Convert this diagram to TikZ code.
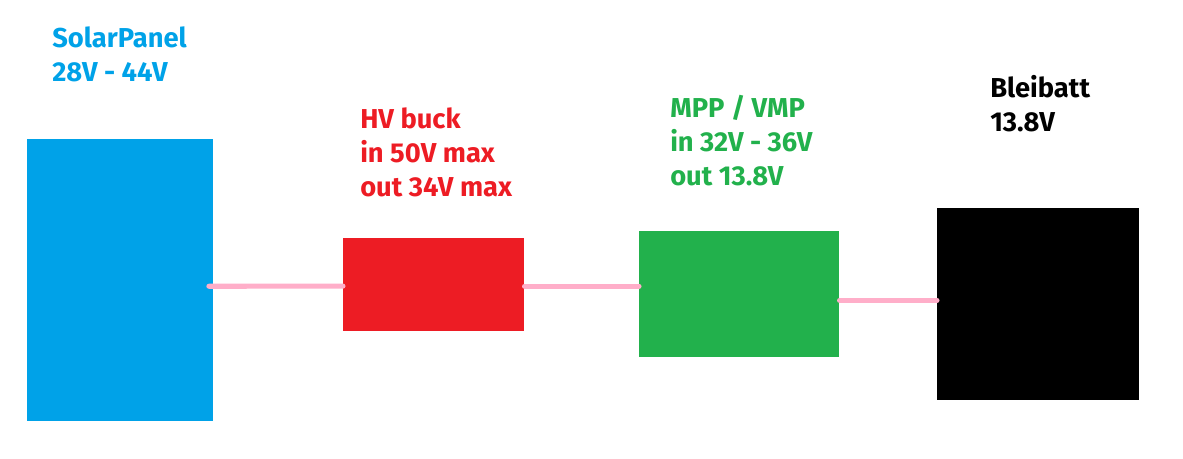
\documentclass[tikz,border=0pt]{standalone}
\usepackage{fontspec}
\setmainfont{Fira Sans}
\usepackage{tikz}
\usetikzlibrary{arrows}

\definecolor{paintblue}{HTML}{00A2E8}
\definecolor{paintred}{HTML}{ED1C24}
\definecolor{paintgreen}{HTML}{22B14C}
\definecolor{paintpink}{HTML}{FFAEC9}

\tikzset{
  block/.style={draw=none, inner sep=0pt, anchor=north west},
  label/.style={anchor=base west, inner sep=0pt, align=left,
    font=\fontsize{20.5}{25.5}\selectfont\bfseries},
  wire/.style={draw=paintpink, line width=3.8pt, line cap=round}
}

\begin{document}
\begin{tikzpicture}[x=0.75pt, y=-0.75pt]
\useasboundingbox (0,0) rectangle (1183,459);

\node[block, fill=paintblue, minimum width=139pt, minimum height=211.5pt] (solar) at (27,139) {};

\node[block, fill=paintred, minimum width=135.75pt, minimum height=69.75pt] (buck) at (343,238) {};

\node[block, fill=paintgreen, minimum width=150pt, minimum height=94.5pt] (mpp) at (639,231) {};

\node[block, fill=black, minimum width=151.5pt, minimum height=144pt] (batt) at (937,208) {};

% base west sits on the last line
\node[label, text=paintblue] (solartext) at (52,82)
{SolarPanel\\28V - 44V};

\node[label, text=paintred] (bucktext) at (360,197)
{HV buck\\in 50V max\\out 34V max};

\node[label, text=paintgreen] (mpptext) at (670,186)
{MPP / VMP\\in 32V - 36V\\out 13.8V};

\node[label, text=black] (batttext) at (990,132)
{Bleibatt\\13.8V};

\draw[wire] ([xshift=-3pt,yshift=-4.5pt]solar.east) -- ([yshift=-1pt]buck.west);

\draw[wire] ([yshift=-1pt]buck.east) -- ([yshift=-1pt]buck.east -| mpp.west);

\draw[wire] ([yshift=-4.5pt]mpp.east) -- ([yshift=-4.5pt]mpp.east -| batt.west);
\end{tikzpicture}
\end{document}
